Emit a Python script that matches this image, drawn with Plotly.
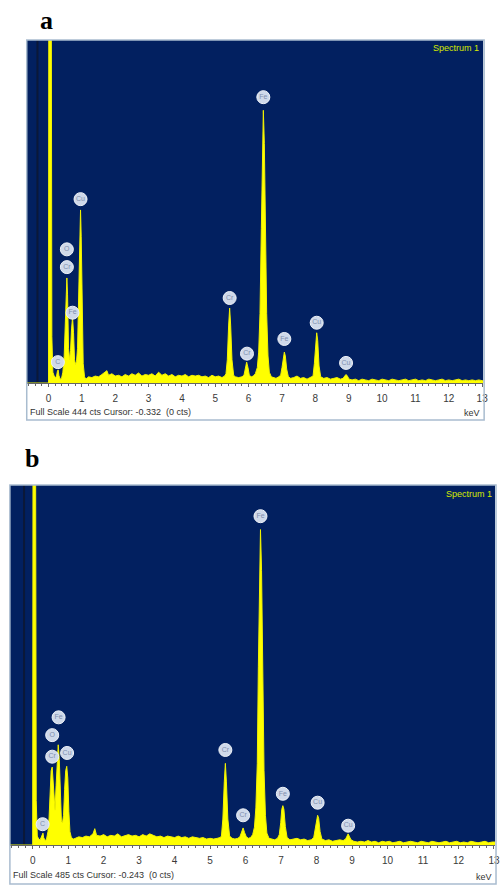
import plotly.graph_objects as go

W, H = 503, 885

# ---------------- data: panel a ----------------
full_scale_a = 444
cursor_a = -0.332
spectrum_a = [
    (-0.65, 0), (0.00, 0), (0.01, 600), (0.03, 1500), (0.06, 1500), (0.08, 600), (0.10, 60),
    (0.13, 14), (0.17, 9), (0.21, 7), (0.24, 9), (0.27, 16), (0.29, 17), (0.31, 10), (0.35, 5),
    (0.39, 6), (0.43, 14), (0.47, 35), (0.50, 80), (0.53, 125), (0.55, 136), (0.57, 115),
    (0.60, 45), (0.63, 30), (0.66, 42), (0.69, 70), (0.72, 85), (0.75, 65), (0.78, 30),
    (0.81, 24), (0.84, 28), (0.87, 45), (0.90, 120), (0.93, 200), (0.96, 224), (0.98, 190),
    (1.01, 90), (1.04, 25), (1.08, 8), (1.12, 5), (1.2, 8), (1.3, 7), (1.4, 9), (1.5, 8),
    (1.6, 11), (1.7, 14), (1.75, 16), (1.8, 10), (1.9, 12), (2.0, 9), (2.1, 10), (2.2, 8),
    (2.3, 11), (2.4, 9), (2.5, 12), (2.6, 10), (2.7, 13), (2.8, 9), (2.9, 11), (3.0, 10),
    (3.1, 12), (3.2, 9), (3.3, 14), (3.4, 10), (3.5, 12), (3.6, 9), (3.7, 11), (3.8, 8),
    (3.9, 10), (4.0, 9), (4.1, 11), (4.2, 8), (4.3, 10), (4.4, 9), (4.5, 10), (4.6, 8),
    (4.7, 9), (4.8, 7), (4.9, 10), (5.0, 8), (5.1, 9), (5.2, 7), (5.28, 9),
    (5.32, 12), (5.36, 30), (5.40, 75), (5.43, 97), (5.46, 75), (5.50, 30), (5.55, 10),
    (5.6, 8), (5.7, 7), (5.8, 8), (5.86, 10), (5.90, 18), (5.94, 27), (5.98, 20), (6.02, 10),
    (6.08, 8), (6.14, 9), (6.20, 12), (6.26, 20), (6.30, 40), (6.34, 90), (6.38, 200),
    (6.41, 310), (6.44, 353), (6.47, 310), (6.50, 200), (6.54, 90), (6.58, 35), (6.62, 14),
    (6.68, 8), (6.75, 7), (6.82, 6), (6.90, 8), (6.96, 10), (7.00, 20), (7.04, 35), (7.07, 40),
    (7.10, 35), (7.14, 18), (7.19, 8), (7.26, 6), (7.35, 7), (7.45, 9), (7.55, 6), (7.65, 7),
    (7.75, 5), (7.85, 7), (7.93, 9), (7.97, 25), (8.01, 55), (8.04, 65), (8.07, 55), (8.11, 22),
    (8.16, 8), (8.25, 6), (8.35, 7), (8.45, 5), (8.55, 6), (8.65, 7), (8.75, 5), (8.83, 6),
    (8.88, 9), (8.92, 11), (8.96, 9), (9.01, 5), (9.1, 4), (9.2, 5), (9.3, 3), (9.4, 5),
    (9.5, 4), (9.6, 3), (9.7, 5), (9.8, 4), (9.9, 3), (10.0, 5), (10.1, 4), (10.2, 3),
    (10.3, 5), (10.4, 4), (10.5, 3), (10.6, 4), (10.7, 5), (10.8, 3), (10.9, 4), (11.0, 5),
    (11.1, 3), (11.2, 4), (11.3, 3), (11.4, 5), (11.5, 4), (11.6, 3), (11.7, 4), (11.8, 5),
    (11.9, 3), (12.0, 4), (12.1, 3), (12.2, 4), (12.3, 5), (12.4, 3), (12.5, 4), (12.6, 3),
    (12.7, 4), (12.8, 3), (12.9, 4), (13.0, 3), (13.1, 3),
]
label_el_a = ["C", "O", "Cr", "Fe", "Cu", "Cr", "Cr", "Fe", "Fe", "Cu", "Cu"]
label_x_a = [0.28, 0.55, 0.55, 0.72, 0.96, 5.43, 5.95, 6.44, 7.07, 8.04, 8.92]
label_y_a = [27, 173, 150, 91, 238, 110, 38, 370, 57, 78, 26]

# ---------------- data: panel b ----------------
full_scale_b = 485
cursor_b = -0.243
spectrum_b = [
    (-0.65, 0), (0.00, 0), (0.01, 600), (0.03, 1500), (0.06, 1500), (0.08, 600), (0.10, 60),
    (0.13, 12), (0.17, 8), (0.21, 7), (0.24, 10), (0.27, 15), (0.29, 16), (0.31, 10), (0.35, 6),
    (0.39, 8), (0.43, 18), (0.46, 35), (0.49, 75), (0.52, 100), (0.55, 105), (0.58, 80),
    (0.61, 50), (0.63, 47), (0.66, 80), (0.69, 120), (0.72, 135), (0.75, 115), (0.78, 55),
    (0.81, 32), (0.84, 30), (0.87, 40), (0.90, 75), (0.93, 100), (0.96, 106), (0.99, 90),
    (1.02, 45), (1.05, 18), (1.09, 10), (1.15, 8), (1.2, 9), (1.3, 11), (1.4, 10), (1.5, 12),
    (1.6, 11), (1.7, 15), (1.75, 22), (1.8, 13), (1.9, 12), (2.0, 14), (2.1, 11), (2.2, 13),
    (2.3, 12), (2.4, 15), (2.5, 11), (2.6, 13), (2.7, 14), (2.8, 12), (2.9, 13), (3.0, 11),
    (3.1, 14), (3.2, 12), (3.3, 15), (3.4, 13), (3.5, 11), (3.6, 12), (3.7, 10), (3.8, 12),
    (3.9, 11), (4.0, 10), (4.1, 12), (4.2, 10), (4.3, 11), (4.4, 9), (4.5, 11), (4.6, 10),
    (4.7, 9), (4.8, 10), (4.9, 8), (5.0, 9), (5.1, 8), (5.2, 9), (5.28, 10),
    (5.32, 12), (5.36, 35), (5.40, 85), (5.43, 110), (5.46, 85), (5.50, 35), (5.55, 12),
    (5.62, 9), (5.7, 8), (5.78, 9), (5.84, 11), (5.88, 17), (5.93, 23), (5.97, 17), (6.02, 11),
    (6.08, 9), (6.14, 10), (6.20, 14), (6.25, 24), (6.29, 50), (6.33, 110), (6.36, 240),
    (6.39, 370), (6.42, 425), (6.45, 370), (6.48, 240), (6.52, 100), (6.56, 40), (6.60, 16),
    (6.66, 9), (6.74, 8), (6.82, 7), (6.90, 9), (6.95, 14), (6.99, 30), (7.02, 48), (7.05, 53),
    (7.08, 48), (7.12, 25), (7.17, 10), (7.25, 7), (7.35, 8), (7.45, 9), (7.55, 7), (7.65, 8),
    (7.75, 6), (7.85, 7), (7.92, 10), (7.96, 22), (8.00, 36), (8.03, 40), (8.06, 36),
    (8.10, 18), (8.15, 8), (8.25, 6), (8.35, 7), (8.45, 5), (8.55, 6), (8.65, 7), (8.75, 6),
    (8.82, 8), (8.86, 12), (8.89, 15), (8.92, 12), (8.97, 7), (9.05, 5), (9.15, 4), (9.25, 5),
    (9.35, 4), (9.45, 6), (9.55, 4), (9.65, 5), (9.75, 3), (9.85, 5), (9.95, 4), (10.05, 5),
    (10.15, 3), (10.25, 4), (10.35, 5), (10.45, 3), (10.55, 4), (10.65, 5), (10.75, 4),
    (10.85, 3), (10.95, 5), (11.05, 4), (11.15, 3), (11.25, 5), (11.35, 4), (11.45, 3),
    (11.55, 4), (11.65, 5), (11.75, 3), (11.85, 4), (11.95, 5), (12.05, 3), (12.15, 4),
    (12.25, 3), (12.35, 5), (12.45, 4), (12.55, 3), (12.65, 4), (12.75, 5), (12.85, 3),
    (12.95, 4), (13.1, 4),
]
label_el_b = ["C", "O", "Cr", "Fe", "Cu", "Cr", "Cr", "Fe", "Fe", "Cu", "Cu"]
label_x_b = [0.28, 0.55, 0.55, 0.73, 0.97, 5.43, 5.93, 6.42, 7.05, 8.03, 8.89]
label_y_b = [28, 148, 119, 172, 124, 128, 40, 443, 69, 57, 26]

tick_vals = list(range(0, 14))

# ---------------- styling ----------------
BLUE = "#022060"
YELLOW = "#ffff00"
FRAME = "#a9bccf"


def px_x(x):
    return x / W


def px_y(y):
    return 1 - y / H


fig = go.Figure()

panels = [
    dict(spec=spectrum_a, fs=full_scale_a, cur=cursor_a, lel=label_el_a, lx=label_x_a,
         ly=label_y_a, xa="x", ya="y"),
    dict(spec=spectrum_b, fs=full_scale_b, cur=cursor_b, lel=label_el_b, lx=label_x_b,
         ly=label_y_b, xa="x2", ya="y2"),
]

for p in panels:
    ex = [e for e, c in p["spec"]]
    cy = [c for e, c in p["spec"]]
    fig.add_trace(go.Scatter(x=[p["cur"], p["cur"]], y=[0, p["fs"]], mode="lines",
                             line=dict(color="#0b1838", width=2), xaxis=p["xa"], yaxis=p["ya"],
                             hoverinfo="skip"))
    fig.add_trace(go.Scatter(x=ex, y=cy, mode="lines", fill="tozeroy", fillcolor=YELLOW,
                             line=dict(color="#f2f200", width=1), xaxis=p["xa"], yaxis=p["ya"],
                             hoverinfo="skip"))
    fig.add_trace(go.Scatter(x=p["lx"], y=p["ly"], mode="markers+text", text=p["lel"],
                             textposition="middle center",
                             textfont=dict(size=7, color="#7f8fae", family="Liberation Sans"),
                             marker=dict(size=13, color="#cfd9ea",
                                         line=dict(color="#eef2f8", width=1)),
                             xaxis=p["xa"], yaxis=p["ya"], hoverinfo="skip", cliponaxis=False))

axis_common = dict(
    tickmode="array", tickvals=tick_vals, ticks="outside", ticklen=3, tickcolor="#666",
    tickwidth=1, showline=True, linecolor="#666", linewidth=1, showgrid=False, zeroline=False,
    tickfont=dict(size=10, color="#3a3a3a", family="Liberation Sans Narrow, Arial Narrow, Liberation Sans"),
    minor=dict(tickmode="linear", tick0=0, dtick=0.2, ticks="outside", ticklen=2, tickcolor="#666"),
    ticklabelstandoff=3, fixedrange=True,
)

fig.update_layout(
    width=W, height=H, margin=dict(l=0, r=0, t=0, b=0),
    paper_bgcolor="white", plot_bgcolor=BLUE, showlegend=False,
    xaxis=dict(domain=[px_x(27), px_x(488)], range=[-0.653, 13.03], anchor="y", **axis_common),
    yaxis=dict(domain=[px_y(383), px_y(40)], range=[0, full_scale_a], visible=False, anchor="x"),
    xaxis2=dict(domain=[px_x(10), px_x(500)], range=[-0.642, 13.03], anchor="y2", **axis_common),
    yaxis2=dict(domain=[px_y(845), px_y(485)], range=[0, full_scale_b], visible=False, anchor="x2"),
)

# frames around the two panels
fig.add_shape(type="rect", xref="paper", yref="paper", x0=px_x(27), x1=px_x(489),
              y0=px_y(420), y1=px_y(40), line=dict(color=FRAME, width=1.5), layer="above")
fig.add_shape(type="rect", xref="paper", yref="paper", x0=px_x(10), x1=px_x(501),
              y0=px_y(884), y1=px_y(485), line=dict(color=FRAME, width=1.5), layer="above")

narrow = "Liberation Sans Narrow, Arial Narrow, Liberation Sans"
annotations = [
    dict(text="<b>a</b>", x=px_x(47), y=px_y(20), font=dict(size=26, family="Liberation Serif", color="black")),
    dict(text="<b>b</b>", x=px_x(32), y=px_y(458), font=dict(size=26, family="Liberation Serif", color="black")),
    dict(text="Spectrum 1", x=px_x(486), y=px_y(48), xanchor="right",
         font=dict(size=9, family=narrow, color="#d6ea00")),
    dict(text="Spectrum 1", x=px_x(499), y=px_y(494), xanchor="right",
         font=dict(size=9, family=narrow, color="#d6ea00")),
    dict(text=f"Full Scale {full_scale_a} cts Cursor: {cursor_a}&nbsp;&nbsp;(0 cts)", x=px_x(28),
         y=px_y(412), xanchor="left", font=dict(size=9, family=narrow, color="#333")),
    dict(text=f"Full Scale {full_scale_b} cts Cursor: {cursor_b}&nbsp;&nbsp;(0 cts)", x=px_x(11),
         y=px_y(875), xanchor="left", font=dict(size=9, family=narrow, color="#333")),
    dict(text="keV", x=px_x(487), y=px_y(413), xanchor="right",
         font=dict(size=9, family=narrow, color="#333")),
    dict(text="keV", x=px_x(499), y=px_y(877), xanchor="right",
         font=dict(size=9, family=narrow, color="#333")),
]
for a in annotations:
    a.setdefault("xanchor", "center")
    fig.add_annotation(xref="paper", yref="paper", showarrow=False, yanchor="middle", **a)

fig.write_html("out.html")
